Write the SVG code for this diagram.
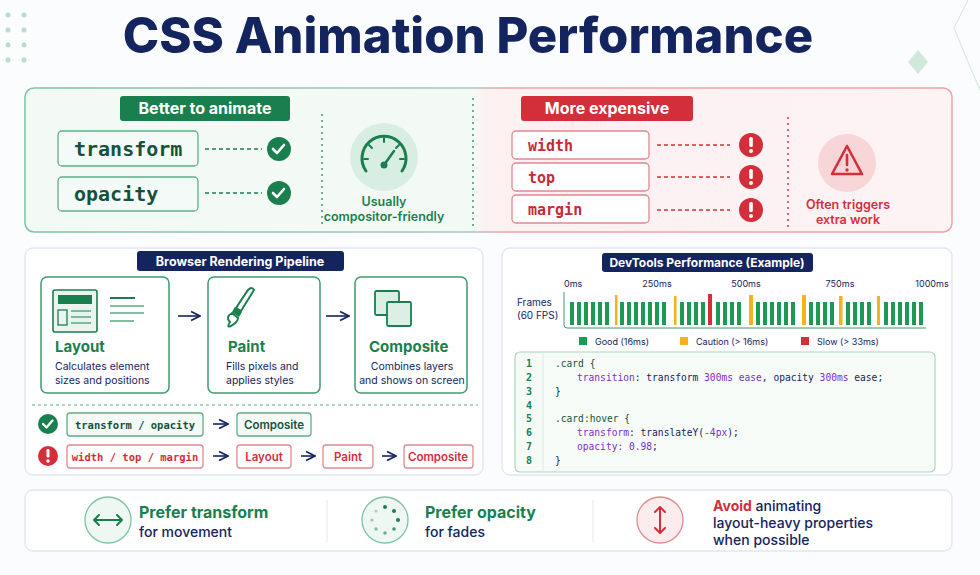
<svg xmlns="http://www.w3.org/2000/svg" width="980" height="575" viewBox="0 0 980 575">
<defs>
<style>
.sans{font-family:"Inter","Liberation Sans",sans-serif}
.mono{font-family:"DejaVu Sans Mono","Liberation Mono",monospace}
.navy{fill:#14245e}
.grn{fill:#1a7f4e}
.red{fill:#d32f3a}
.gbox{fill:#f4faf7;stroke:#5fae88;stroke-width:1.3}
.rbox{fill:#fff;stroke:#e08a90;stroke-width:1.3}
.pbox{fill:#fff;stroke:#3f9a6d;stroke-width:1.5}
.arr{stroke:#14245e;stroke-width:1.6;fill:none}
.bar{fill:#1a9a52}
.cau{fill:#f5b21b}
</style>
<marker id="ah" viewBox="0 0 10 10" refX="9" refY="5" markerWidth="7" markerHeight="7" orient="auto"><path d="M1,1 L9,5 L1,9" fill="none" stroke="#14245e" stroke-width="1.6"/></marker>
<linearGradient id="tg" x1="0" x2="1"><stop offset="0" stop-color="#f3faf6"/><stop offset="0.48" stop-color="#f3faf6"/><stop offset="0.5" stop-color="#fdf1f2"/><stop offset="1" stop-color="#fdf3f4"/></linearGradient>
<linearGradient id="tb" x1="0" x2="1"><stop offset="0" stop-color="#7cc4a0"/><stop offset="0.48" stop-color="#a9c7c0"/><stop offset="0.52" stop-color="#eea3a8"/><stop offset="1" stop-color="#eea3a8"/></linearGradient>
</defs>
<rect width="980" height="575" fill="#fbfcfd"/>
<g id="decor" fill="#b7dcc9">
<circle cx="8" cy="15" r="2.5"/><circle cx="24" cy="15" r="2.5"/><circle cx="8" cy="30" r="2.5"/><circle cx="24" cy="30" r="2.5"/><circle cx="8" cy="45" r="2.5"/><circle cx="24" cy="45" r="2.5"/><circle cx="8" cy="60" r="2.5"/><circle cx="24" cy="60" r="2.5"/>
<path d="M918,50 L928,62 L918,74 L908,62 Z" fill="#cfe9dc"/>
<path d="M968,0 L954,28 L968,62 L980,90" fill="none" stroke="#d5ece0" stroke-width="1.2"/>
</g>
<text x="468" y="53" text-anchor="middle" class="sans navy" font-size="49" font-weight="800">CSS Animation Performance</text>

<g id="top-panel">
<rect x="25" y="88" width="927" height="144" rx="9" fill="url(#tg)" stroke="url(#tb)" stroke-width="1.5"/>
<line x1="473" y1="98" x2="473" y2="228" stroke="#3f9a6d" stroke-width="1.5" stroke-dasharray="2 4"/>
</g>
<g id="better">
<rect x="120" y="96" width="170" height="25" rx="3" fill="#1a7f4e"/>
<text x="205" y="114" text-anchor="middle" class="sans" fill="#fff" font-size="16" font-weight="700">Better to animate</text>
<rect x="58" y="131" width="140" height="35" rx="4" class="gbox"/>
<text x="74" y="156" class="mono" fill="#14533a" font-size="20" font-weight="700">transform</text>
<rect x="58" y="177" width="140" height="34" rx="4" class="gbox"/>
<text x="74" y="201" class="mono" fill="#14533a" font-size="20" font-weight="700">opacity</text>
<g stroke="#1a7f4e" stroke-width="1.4" stroke-dasharray="4 3"><line x1="205" y1="149" x2="262" y2="149"/><line x1="205" y1="193" x2="262" y2="193"/></g>
<circle cx="279" cy="149" r="12" fill="#1a7f4e"/><path d="M273,149 l4,4 l7,-8" fill="none" stroke="#fff" stroke-width="2.6" stroke-linecap="round" stroke-linejoin="round"/>
<circle cx="279" cy="193" r="12" fill="#1a7f4e"/><path d="M273,193 l4,4 l7,-8" fill="none" stroke="#fff" stroke-width="2.6" stroke-linecap="round" stroke-linejoin="round"/>
<line x1="322" y1="114" x2="322" y2="228" stroke="#3f9a6d" stroke-width="1.5" stroke-dasharray="2 4"/>
<circle cx="384" cy="157" r="34" fill="#d9eee3"/>
<path d="M366,171 A22,22 0 1 1 402,171" fill="none" stroke="#1a7f4e" stroke-width="3" stroke-linecap="round"/>
<g stroke="#1a7f4e" stroke-width="2" stroke-linecap="round"><line x1="384" y1="138" x2="384" y2="142"/><line x1="369" y1="145" x2="372" y2="148"/><line x1="399" y1="145" x2="396" y2="148"/><line x1="364" y1="159" x2="368" y2="159"/><line x1="404" y1="159" x2="400" y2="159"/><line x1="384" y1="165" x2="394" y2="151" stroke-width="2.5"/></g>
<circle cx="384" cy="165" r="3.5" fill="#1a7f4e"/>
<text x="384" y="206" text-anchor="middle" class="sans grn" font-size="12.5" font-weight="600">Usually</text>
<text x="384" y="221" text-anchor="middle" class="sans grn" font-size="12.5" font-weight="600">compositor-friendly</text>
</g>
<g id="expensive">
<rect x="521" y="96" width="172" height="25" rx="3" fill="#d32f3a"/>
<text x="607" y="114" text-anchor="middle" class="sans" fill="#fff" font-size="16" font-weight="700">More expensive</text>
<rect x="512" y="131" width="137" height="28" rx="4" class="rbox"/>
<text x="528" y="151" class="mono" font-size="15" font-weight="700" fill="#c62a35">width</text>
<rect x="512" y="163" width="137" height="28" rx="4" class="rbox"/>
<text x="528" y="183" class="mono" font-size="15" font-weight="700" fill="#c62a35">top</text>
<rect x="512" y="195" width="137" height="28" rx="4" class="rbox"/>
<text x="528" y="215" class="mono" font-size="15" font-weight="700" fill="#c62a35">margin</text>
<g stroke="#d32f3a" stroke-width="1.4" stroke-dasharray="4 3"><line x1="657" y1="145" x2="730" y2="145"/><line x1="657" y1="177" x2="730" y2="177"/><line x1="657" y1="210" x2="730" y2="210"/></g>
<g fill="#d32f3a"><circle cx="751" cy="145" r="12"/><circle cx="751" cy="177" r="12"/><circle cx="751" cy="210" r="12"/></g>
<g fill="#fff"><rect x="749.2" y="137" width="3.6" height="10" rx="1.5"/><circle cx="751" cy="151" r="2"/><rect x="749.2" y="169" width="3.6" height="10" rx="1.5"/><circle cx="751" cy="183" r="2"/><rect x="749.2" y="202" width="3.6" height="10" rx="1.5"/><circle cx="751" cy="216" r="2"/></g>
<line x1="788" y1="117" x2="788" y2="228" stroke="#d32f3a" stroke-width="1.5" stroke-dasharray="2 4"/>
<circle cx="847" cy="163" r="29" fill="#f8d5d7"/>
<path d="M847,146 L862,174 L832,174 Z" fill="none" stroke="#d32f3a" stroke-width="2.6" stroke-linejoin="round"/>
<line x1="847" y1="155" x2="847" y2="165" stroke="#d32f3a" stroke-width="2.6" stroke-linecap="round"/><circle cx="847" cy="170" r="1.7" fill="#d32f3a"/>
<text x="848" y="209" text-anchor="middle" class="sans red" font-size="12.5" font-weight="600">Often triggers</text>
<text x="848" y="224" text-anchor="middle" class="sans red" font-size="12.5" font-weight="600">extra work</text>
</g>

<g id="pipeline">
<rect x="25" y="248" width="458" height="227" rx="8" fill="#fff" stroke="#dfe6ee" stroke-width="1.3"/>
<rect x="137" y="251" width="207" height="20" rx="3" fill="#14245e"/>
<text x="240" y="266" text-anchor="middle" class="sans" fill="#fff" font-size="12.5" font-weight="700">Browser Rendering Pipeline</text>
<g id="layout">
<rect x="41" y="277" width="128" height="116" rx="6" class="pbox"/>
<rect x="53" y="290" width="44" height="42" rx="2" fill="#eaf5ef" stroke="#1a7f4e" stroke-width="1.6"/>
<rect x="58" y="295" width="34" height="9" fill="#1a7f4e"/>
<rect x="58" y="310" width="9" height="15" fill="none" stroke="#1a7f4e" stroke-width="1.3"/>
<g stroke="#5fae88" stroke-width="1.6"><line x1="71" y1="311" x2="91" y2="311"/><line x1="71" y1="317" x2="91" y2="317"/><line x1="71" y1="323" x2="91" y2="323"/></g>
<g stroke-width="2"><line x1="110" y1="298" x2="135" y2="298" stroke="#1a7f4e"/><line x1="110" y1="306" x2="144" y2="306" stroke="#7cc4a0"/><line x1="110" y1="313" x2="144" y2="313" stroke="#7cc4a0"/><line x1="110" y1="321" x2="134" y2="321" stroke="#7cc4a0"/></g>
<text x="55" y="352" class="sans grn" font-size="15" font-weight="700">Layout</text>
<text x="55" y="370" class="sans navy" font-size="10.5">Calculates element</text>
<text x="55" y="384" class="sans navy" font-size="10.5">sizes and positions</text>
</g>
<g id="paint">
<rect x="208" y="277" width="112" height="116" rx="6" class="pbox"/>
<path d="M248,290 Q252,286 254,290 L241,311 L236,308 Z" fill="none" stroke="#1a7f4e" stroke-width="2"/>
<path d="M235,307 L242,312 L239,317 L232,312 Z" fill="#1a7f4e"/>
<path d="M232,313 Q225,317 230,322 Q226,328 231,326 Q238,322 238,318 Z" fill="none" stroke="#1a7f4e" stroke-width="2"/>
<text x="228" y="352" class="sans grn" font-size="15" font-weight="700">Paint</text>
<text x="226" y="370" class="sans navy" font-size="10.5">Fills pixels and</text>
<text x="226" y="384" class="sans navy" font-size="10.5">applies styles</text>
</g>
<g id="composite">
<rect x="355" y="277" width="112" height="116" rx="6" class="pbox"/>
<rect x="375" y="291" width="24" height="24" rx="1.5" fill="#dcefe5" stroke="#1a7f4e" stroke-width="1.8"/>
<rect x="387" y="302" width="24" height="24" rx="1.5" fill="#dcefe5" stroke="#1a7f4e" stroke-width="1.8"/>
<text x="369" y="352" class="sans grn" font-size="15" font-weight="700">Composite</text>
<text x="412" y="370" text-anchor="middle" class="sans navy" font-size="10.5">Combines layers</text>
<text x="412" y="384" text-anchor="middle" class="sans navy" font-size="10.5">and shows on screen</text>
</g>
<line x1="32" y1="405" x2="478" y2="405" stroke="#5fae88" stroke-width="1.2" stroke-dasharray="3 3"/>
<g id="row-good">
<circle cx="48" cy="424" r="10" fill="#1a7f4e"/><path d="M43,424 l3.5,3.5 l6,-7" fill="none" stroke="#fff" stroke-width="2.3" stroke-linecap="round" stroke-linejoin="round"/>
<rect x="67" y="413" width="136" height="23" rx="3" class="gbox"/>
<text x="135" y="429" text-anchor="middle" class="mono" fill="#14533a" font-size="10.5" font-weight="700">transform / opacity</text>
<rect x="237" y="413" width="74" height="23" rx="3" class="gbox"/>
<text x="274" y="429" text-anchor="middle" class="sans" fill="#14533a" font-size="11.5" font-weight="600">Composite</text>
</g>
<g id="row-bad">
<circle cx="48" cy="456" r="10" fill="#d32f3a"/><rect x="46.5" y="449" width="3" height="8.5" rx="1.3" fill="#fff"/><circle cx="48" cy="461" r="1.7" fill="#fff"/>
<rect x="67" y="445" width="136" height="23" rx="3" class="rbox"/>
<text x="135" y="461" text-anchor="middle" class="mono red" font-size="10.5" font-weight="700">width / top / margin</text>
<rect x="237" y="445" width="54" height="23" rx="3" class="rbox"/>
<text x="264" y="461" text-anchor="middle" class="sans red" font-size="11.5" font-weight="600">Layout</text>
<rect x="323" y="445" width="50" height="23" rx="3" class="rbox"/>
<text x="348" y="461" text-anchor="middle" class="sans red" font-size="11.5" font-weight="600">Paint</text>
<rect x="404" y="445" width="69" height="23" rx="3" class="rbox"/>
<text x="438" y="461" text-anchor="middle" class="sans red" font-size="11.5" font-weight="600">Composite</text>
</g>
</g>

<g id="connectors">
<line x1="178" y1="316" x2="200" y2="316" class="arr" marker-end="url(#ah)"/>
<line x1="326" y1="316" x2="349" y2="316" class="arr" marker-end="url(#ah)"/>
<line x1="213" y1="424" x2="228" y2="424" class="arr" stroke-width="1.3" marker-end="url(#ah)"/>
<line x1="213" y1="456" x2="228" y2="456" class="arr" stroke-width="1.3" marker-end="url(#ah)"/>
<line x1="301" y1="456" x2="315" y2="456" class="arr" stroke-width="1.3" marker-end="url(#ah)"/>
<line x1="382" y1="456" x2="396" y2="456" class="arr" stroke-width="1.3" marker-end="url(#ah)"/>
</g>

<g id="devtools">
<rect x="502" y="248" width="450" height="227" rx="8" fill="#fff" stroke="#dfe6ee" stroke-width="1.3"/>
<rect x="602" y="253" width="211" height="19" rx="3" fill="#14245e"/>
<text x="707" y="267" text-anchor="middle" class="sans" fill="#fff" font-size="12" font-weight="700">DevTools Performance (Example)</text>
<g class="sans navy" font-size="9"><text x="564" y="287">0ms</text><text x="657" y="287" text-anchor="middle">250ms</text><text x="746" y="287" text-anchor="middle">500ms</text><text x="840" y="287" text-anchor="middle">750ms</text><text x="932" y="287" text-anchor="middle">1000ms</text></g>
<text x="517" y="306" class="sans navy" font-size="10">Frames</text>
<text x="517" y="319" class="sans navy" font-size="10">(60 FPS)</text>
<path d="M564,292 L564,325 Q564,328 567,328 L926,328" fill="none" stroke="#3f9a6d" stroke-width="1"/>
<g class="bar">
<rect x="570" y="302" width="4" height="23"/><rect x="577" y="302" width="4" height="23"/><rect x="584" y="302" width="4" height="23"/><rect x="591" y="302" width="4" height="23"/><rect x="598" y="302" width="4" height="23"/><rect x="605" y="302" width="4" height="23"/><rect x="620" y="302" width="4" height="23"/><rect x="627" y="302" width="4" height="23"/><rect x="634" y="302" width="4" height="23"/><rect x="641" y="302" width="4" height="23"/><rect x="648" y="302" width="4" height="23"/><rect x="655" y="302" width="4" height="23"/><rect x="662" y="302" width="4" height="23"/><rect x="680" y="302" width="4" height="23"/><rect x="687" y="302" width="4" height="23"/><rect x="694" y="302" width="4" height="23"/><rect x="701" y="302" width="4" height="23"/><rect x="716" y="302" width="4" height="23"/><rect x="723" y="302" width="4" height="23"/><rect x="730" y="302" width="4" height="23"/><rect x="737" y="302" width="4" height="23"/><rect x="756" y="302" width="4" height="23"/><rect x="763" y="302" width="4" height="23"/><rect x="770" y="302" width="4" height="23"/><rect x="777" y="302" width="4" height="23"/><rect x="784" y="302" width="4" height="23"/><rect x="791" y="302" width="4" height="23"/><rect x="809" y="302" width="4" height="23"/><rect x="816" y="302" width="4" height="23"/><rect x="823" y="302" width="4" height="23"/><rect x="830" y="302" width="4" height="23"/><rect x="846" y="302" width="4" height="23"/><rect x="853" y="302" width="4" height="23"/><rect x="860" y="302" width="4" height="23"/><rect x="867" y="302" width="4" height="23"/><rect x="884" y="302" width="4" height="23"/><rect x="891" y="302" width="4" height="23"/><rect x="898" y="302" width="4" height="23"/><rect x="905" y="302" width="4" height="23"/><rect x="912" y="302" width="4" height="23"/><rect x="919" y="302" width="4" height="23"/>
</g>
<g class="cau"><rect x="615" y="295" width="2.5" height="30"/><rect x="674" y="296" width="2.5" height="29"/><rect x="749" y="295" width="4" height="30"/><rect x="802" y="295" width="4" height="30"/><rect x="839" y="296" width="3.5" height="29"/><rect x="877" y="296" width="3" height="29"/></g>
<rect x="708" y="294" width="4" height="31" fill="#d32f3a"/>
<rect x="579" y="337" width="8" height="8" fill="#1a9a52"/><text x="595" y="345" class="sans navy" font-size="9">Good (16ms)</text>
<rect x="680" y="337" width="8" height="8" fill="#f5b21b"/><text x="696" y="345" class="sans navy" font-size="9">Caution (&gt; 16ms)</text>
<rect x="801" y="337" width="8" height="8" fill="#d32f3a"/><text x="817" y="345" class="sans navy" font-size="9">Slow (&gt; 33ms)</text>
<rect x="515" y="352" width="420" height="120" rx="5" fill="#f6fbf8" stroke="#a9d6bf" stroke-width="1.2"/>
<line x1="543" y1="353" x2="543" y2="471" stroke="#dbece3"/>
<g class="mono" font-size="10" fill="#1a7f4e" font-weight="700" text-anchor="middle"><text x="529" y="367">1</text><text x="529" y="381">2</text><text x="529" y="395">3</text><text x="529" y="409">4</text><text x="529" y="422">5</text><text x="529" y="436">6</text><text x="529" y="450">7</text><text x="529" y="464">8</text></g>
<g class="mono" font-size="9.6" fill="#14245e">
<text x="555" y="367" fill="#14533a">.card {</text>
<text x="577" y="381"><tspan fill="#7b2fc9">transition</tspan>: transform <tspan fill="#7b2fc9">300ms ease</tspan>, opacity <tspan fill="#7b2fc9">300ms</tspan> ease;</text>
<text x="555" y="395">}</text>
<text x="555" y="422" fill="#14533a">.card:hover {</text>
<text x="577" y="436"><tspan fill="#7b2fc9">transform</tspan>: translateY(<tspan fill="#7b2fc9">-4px</tspan>);</text>
<text x="577" y="450"><tspan fill="#7b2fc9">opacity: 0.98</tspan>;</text>
<text x="555" y="464">}</text>
</g>
</g>

<g id="tips">
<rect x="25" y="490" width="927" height="61" rx="8" fill="#fff" stroke="#dfe6ee" stroke-width="1.3"/>
<line x1="327" y1="500" x2="327" y2="542" stroke="#e3e8ee"/>
<line x1="593" y1="500" x2="593" y2="542" stroke="#e3e8ee"/>
<g id="tip1">
<circle cx="108" cy="520" r="23" fill="#eef7f2" stroke="#7cc4a0" stroke-width="1.3"/>
<path d="M94,520 L122,520 M99,515 L94,520 L99,525 M117,515 L122,520 L117,525" fill="none" stroke="#1a7f4e" stroke-width="2" stroke-linecap="round" stroke-linejoin="round"/>
<text x="139" y="518" class="sans grn" font-size="16" font-weight="700">Prefer transform</text>
<text x="139" y="537" class="sans navy" font-size="14" font-weight="500">for movement</text>
</g>
<g id="tip2">
<circle cx="385" cy="520" r="23" fill="#eef7f2" stroke="#7cc4a0" stroke-width="1.3"/>
<g fill="#1a7f4e"><circle cx="385" cy="507" r="2"/><circle cx="394" cy="511" r="2"/><circle cx="398" cy="520" r="2"/><circle cx="394" cy="529" r="1.8" opacity="0.8"/><circle cx="385" cy="533" r="1.8" opacity="0.6"/><circle cx="376" cy="529" r="1.7" opacity="0.5"/><circle cx="372" cy="520" r="1.6" opacity="0.4"/><circle cx="376" cy="511" r="1.6" opacity="0.3"/></g>
<text x="425" y="518" class="sans grn" font-size="16" font-weight="700">Prefer opacity</text>
<text x="425" y="537" class="sans navy" font-size="14" font-weight="500">for fades</text>
</g>
<g id="tip3">
<circle cx="660" cy="520" r="23" fill="#fdecee" stroke="#e08a90" stroke-width="1.3"/>
<path d="M660,507 L660,533 M655,512 L660,507 L665,512 M655,528 L660,533 L665,528" fill="none" stroke="#d32f3a" stroke-width="2" stroke-linecap="round" stroke-linejoin="round"/>
<text x="713" y="511" class="sans navy" font-size="14" font-weight="500"><tspan fill="#d32f3a" font-weight="700">Avoid</tspan> animating</text>
<text x="713" y="528" class="sans navy" font-size="14" font-weight="500">layout-heavy properties</text>
<text x="713" y="545" class="sans navy" font-size="14" font-weight="500">when possible</text>
</g>
</g>
</svg>
